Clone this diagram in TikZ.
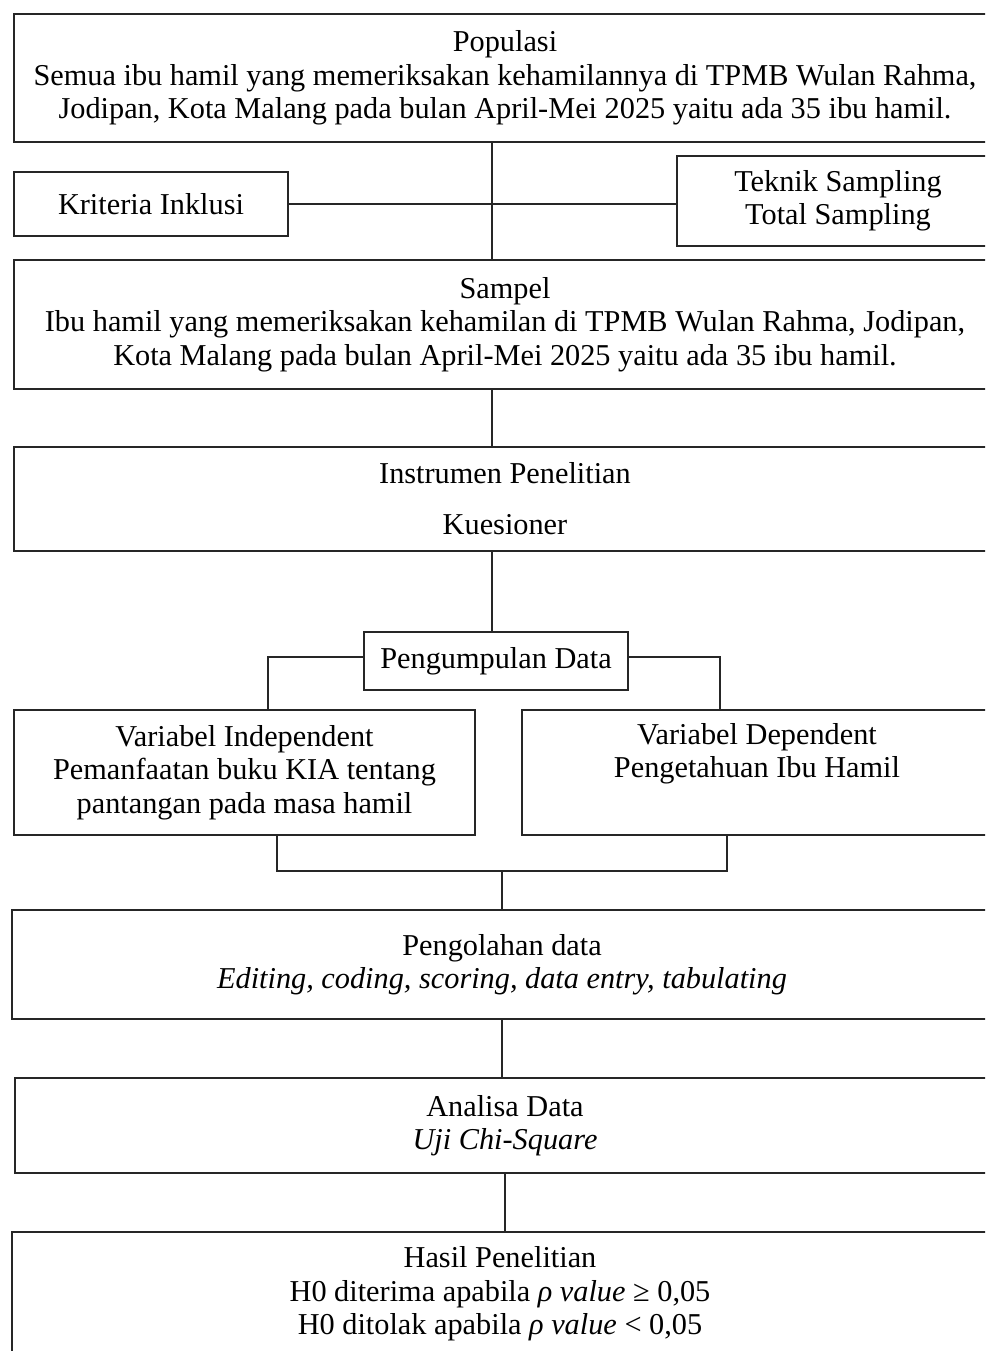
\documentclass[tikz,border=0pt]{standalone}
\usepackage{fontspec}
\setmainfont{Liberation Serif}
\begin{document}
\begin{tikzpicture}[x=1pt,y=-1pt,
  box/.style={draw=black!85,line width=2.4pt,rectangle,align=center,inner sep=0pt,
    font=\fontsize{30.3}{33.5}\selectfont},
  link/.style={draw=black!85,line width=1.8pt}]
\useasboundingbox (0,0) rectangle (985,1351);
\fill[white] (0,0) rectangle (985,1351);
\clip (0,0) rectangle (985,1351);
\node[box,minimum width=982pt,minimum height=128pt] (pop) at (505,78)
  {Populasi\\Semua ibu hamil yang memeriksakan kehamilannya di TPMB Wulan Rahma,\\Jodipan, Kota Malang pada bulan April-Mei 2025 yaitu ada 35 ibu hamil.};
\node[box,minimum width=274pt,minimum height=64pt] (krit) at (151,204) {Kriteria Inklusi};
\node[box,minimum width=322pt,minimum height=90pt] (tek) at (838,201) {Teknik Sampling\\Total Sampling};
\node[box,minimum width=982pt,minimum height=129pt] (samp) at (505,324.5)
  {Sampel\\Ibu hamil yang memeriksakan kehamilan di TPMB Wulan Rahma, Jodipan,\\Kota Malang pada bulan April-Mei 2025 yaitu ada 35 ibu hamil.};
\node[box,minimum width=982pt,minimum height=104pt] (inst) at (505,499)
  {Instrumen Penelitian\\[17.5pt]Kuesioner};
\node[box,minimum width=264pt,minimum height=58pt] (pd) at (496,661) {Pengumpulan Data};
\node[box,minimum width=461pt,minimum height=125pt] (vi) at (244.5,772.5)
  {Variabel Independent\\Pemanfaatan buku KIA tentang\\pantangan pada masa hamil};
\node[box,minimum width=470pt,minimum height=125pt] (vd) at (757,772.5)
  {Variabel Dependent\\Pengetahuan Ibu Hamil\\\strut};
\node[box,minimum width=980pt,minimum height=109pt] (peng) at (502,964.5)
  {\raisebox{5pt}{\shortstack{Pengolahan data\\[2pt]\textit{Editing, coding, scoring, data entry, tabulating}}}};
\node[box,minimum width=980pt,minimum height=95pt] (anal) at (505,1125.5)
  {Analisa Data\\\textit{Uji Chi-Square}};
\node[box,minimum width=976pt,minimum height=124pt] (hasil) at (500,1294)
  {Hasil Penelitian\\H0 diterima apabila \textit{ρ value} ≥ 0,05\\H0 ditolak apabila \textit{ρ value} < 0,05};
% connectors
\draw[link] ([xshift=-13pt]pop.south) -- ([xshift=-13pt]samp.north);
\draw[link] (krit.east) -- (krit.east -| tek.west);
\draw[link] ([xshift=-13pt]samp.south) -- ([xshift=-13pt]inst.north);
\draw[link] ([xshift=-13pt]inst.south) -- ([xshift=-13pt]inst.south |- pd.north);
\draw[link] ([yshift=4pt]pd.west) -| ([xshift=23.5pt]vi.north);
\draw[link] ([yshift=4pt]pd.east) -| ([xshift=-37pt]vd.north);
\coordinate (jb) at ([yshift=-35pt]vi.south -| peng.north);
\draw[link] ([xshift=32.5pt]vi.south) |- (jb) -| ([xshift=-30pt]vd.south);
\draw[link] (jb) -- (peng.north);
\draw[link] (peng.south) -- (peng.south |- anal.north);
\draw[link] (anal.south) -- (anal.south |- hasil.north);
\end{tikzpicture}
\end{document}
